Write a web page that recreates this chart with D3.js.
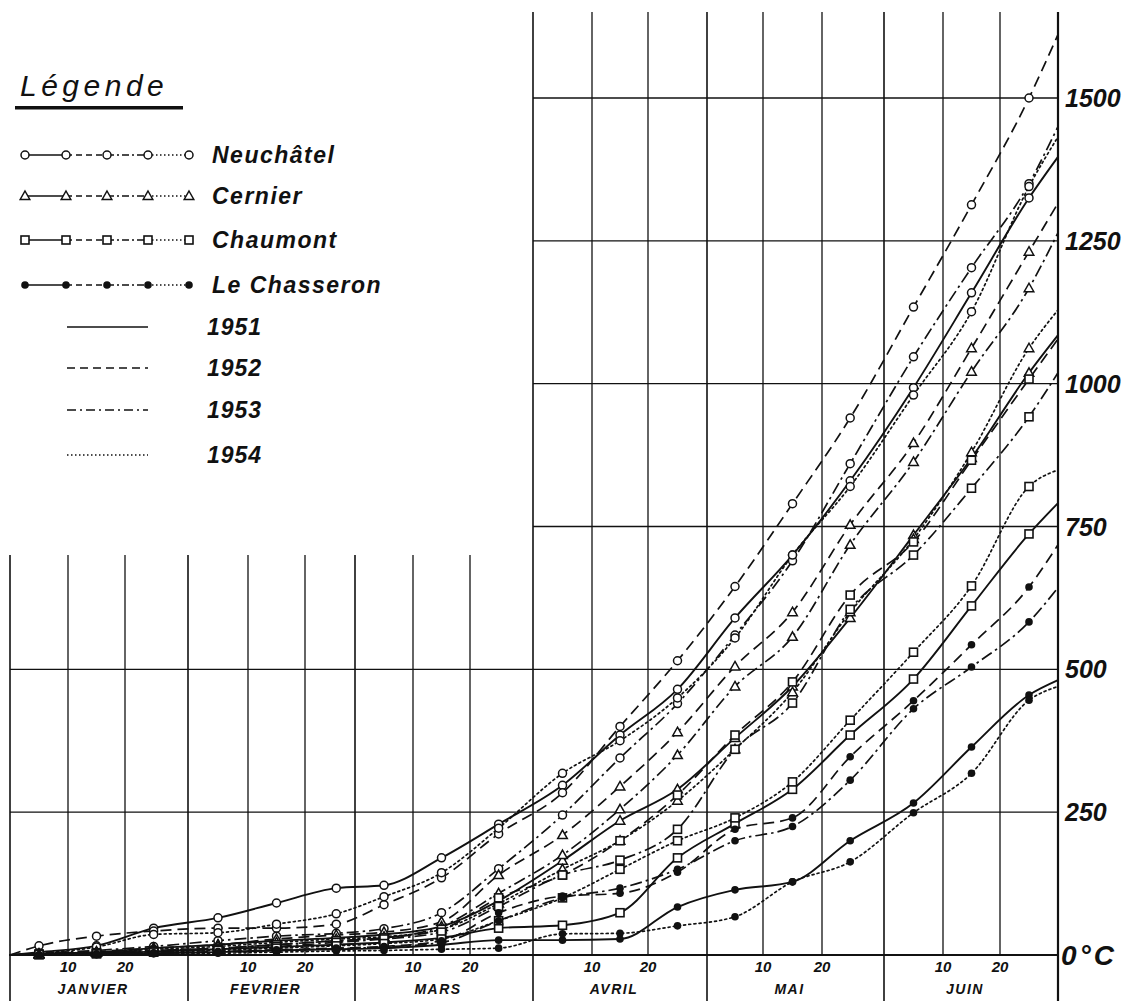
<!DOCTYPE html>
<html>
<head>
<meta charset="utf-8">
<script src="https://cdn.jsdelivr.net/npm/d3@7"></script>
<style>
  html, body { margin: 0; padding: 0; background: #fff; }
  svg { display: block; }
  text { font-family: "Liberation Sans", "DejaVu Sans", sans-serif; fill: #111; }
</style>
</head>
<body>
<svg id="chart" width="1124" height="1001"></svg>
<script>
// Cumulative temperature sums (°C above 0), 1 January – 30 June.
// Day index = days elapsed since 1 January; readings taken on the 5th, 15th and 25th.
const dayIndex = [0, 5, 15, 25, 36, 46, 56, 64, 74, 84, 95, 105, 115, 125, 135, 145, 156, 166, 176, 181];

const neuchatel1951 = [0, 5, 16, 47, 65, 91, 117, 122, 170, 229, 297, 385, 465, 590, 700, 830, 993, 1159, 1325, 1397];
const neuchatel1952 = [0, 16, 33, 42, 47, 47, 54, 88, 135, 212, 284, 400, 515, 645, 790, 940, 1134, 1313, 1500, 1611];
const neuchatel1953 = [0, 3, 8, 15, 25, 33, 38, 46, 74, 151, 245, 345, 440, 560, 690, 860, 1047, 1203, 1350, 1450];
const neuchatel1954 = [0, 3, 14, 36, 39, 54, 72, 102, 144, 222, 318, 375, 450, 555, 700, 820, 980, 1126, 1345, 1432];

const cernier1951 = [0, 2, 5, 12, 18, 25, 30, 36, 50, 95, 165, 235, 290, 380, 470, 590, 735, 870, 1019, 1085];
const cernier1952 = [0, 2, 6, 12, 18, 28, 35, 40, 58, 140, 210, 295, 390, 505, 600, 753, 896, 1062, 1231, 1316];
const cernier1953 = [0, 1, 4, 8, 12, 18, 25, 30, 50, 108, 175, 255, 350, 470, 557, 718, 863, 1021, 1167, 1264];
const cernier1954 = [0, 1, 4, 10, 15, 22, 28, 32, 45, 90, 150, 200, 270, 360, 460, 600, 728, 880, 1062, 1129];

const chaumont1951 = [0, 1, 3, 6, 10, 14, 18, 22, 30, 47, 52, 74, 170, 230, 290, 385, 483, 611, 737, 791];
const chaumont1952 = [0, 1, 4, 8, 12, 18, 25, 30, 45, 100, 140, 200, 280, 385, 478, 630, 723, 866, 1008, 1078];
const chaumont1953 = [0, 1, 3, 6, 10, 15, 22, 28, 40, 85, 140, 166, 220, 360, 441, 605, 700, 817, 942, 1019];
const chaumont1954 = [0, 1, 2, 5, 8, 12, 16, 20, 28, 60, 100, 150, 200, 240, 303, 411, 530, 646, 820, 849];

const chasseron1951 = [0, 0, 1, 3, 5, 8, 10, 12, 18, 26, 26, 28, 84, 114, 128, 200, 266, 364, 455, 481];
const chasseron1952 = [0, 0, 2, 4, 6, 9, 12, 15, 25, 74, 103, 108, 145, 220, 240, 347, 445, 543, 644, 718];
const chasseron1953 = [0, 0, 1, 3, 5, 8, 11, 14, 22, 60, 100, 117, 150, 200, 225, 306, 431, 504, 583, 643];
const chasseron1954 = [0, 0, 1, 2, 3, 5, 7, 8, 10, 12, 37, 38, 51, 67, 128, 163, 249, 318, 446, 470];

const stations = ["Neuchâtel", "Cernier", "Chaumont", "Le Chasseron"];
const stationMarks = ["circle", "triangle", "square", "dot"];
const years = ["1951", "1952", "1953", "1954"];

const series = [
  { station: 0, year: 0, values: neuchatel1951 },
  { station: 0, year: 1, values: neuchatel1952 },
  { station: 0, year: 2, values: neuchatel1953 },
  { station: 0, year: 3, values: neuchatel1954 },
  { station: 1, year: 0, values: cernier1951 },
  { station: 1, year: 1, values: cernier1952 },
  { station: 1, year: 2, values: cernier1953 },
  { station: 1, year: 3, values: cernier1954 },
  { station: 2, year: 0, values: chaumont1951 },
  { station: 2, year: 1, values: chaumont1952 },
  { station: 2, year: 2, values: chaumont1953 },
  { station: 2, year: 3, values: chaumont1954 },
  { station: 3, year: 0, values: chasseron1951 },
  { station: 3, year: 1, values: chasseron1952 },
  { station: 3, year: 2, values: chasseron1953 },
  { station: 3, year: 3, values: chasseron1954 }
];

// Grid: month starts and the 10th / 20th of each month (day index).
const gridDays = [0, 10, 20, 31, 41, 51, 59, 69, 79, 90, 100, 110, 120, 130, 140, 151, 161, 171, 181];
const monthStartDays = [0, 31, 59, 90, 120, 151, 181];
const monthNames = ["JANVIER", "FEVRIER", "MARS", "AVRIL", "MAI", "JUIN"];
const yTicks = [250, 500, 750, 1000, 1250, 1500];

// Line style per year: solid, dashed, dash-dot, dotted
const yearDash = [null, "11,6", "12,4,2.5,4", "2,3.2"];

const svg = d3.select("#chart");

// The hand-drawn grid is slightly uneven, so the time scale follows it piecewise.
const x = d3.scaleLinear()
  .domain(gridDays)
  .range([10, 68, 125, 188, 248, 305, 355, 413, 470, 533, 592, 648, 707, 763, 822, 884, 943, 1000, 1058]);
const y = d3.scaleLinear().domain([0, 1500]).range([955, 98]);

const xLeft = x(0), xRight = x(181), xApril = x(90);
const yBase = y(0);
const yTopRight = 12;
const yTopLeft = 555;

const grid = svg.append("g").attr("stroke", "#111").attr("fill", "none");

// vertical grid lines
gridDays.forEach(d => {
  const isMonth = monthStartDays.includes(d);
  const top = d >= 90 ? yTopRight : yTopLeft;
  const bottom = isMonth ? 1001 : yBase;
  grid.append("line")
    .attr("x1", x(d)).attr("x2", x(d))
    .attr("y1", top).attr("y2", bottom)
    .attr("stroke-width", d === 181 ? 2.2 : (isMonth ? 1.6 : 1.3));
});

// horizontal grid lines
yTicks.forEach(v => {
  const x0 = v <= 500 ? xLeft : xApril;
  grid.append("line")
    .attr("x1", x0).attr("x2", xRight)
    .attr("y1", y(v)).attr("y2", y(v))
    .attr("stroke-width", 1.3);
});
grid.append("line")
  .attr("x1", xLeft).attr("x2", xRight)
  .attr("y1", yBase).attr("y2", yBase)
  .attr("stroke-width", 2.2);

// right-hand value labels
const labelFont = "italic bold 25px 'Liberation Sans', sans-serif";
yTicks.forEach(v => {
  svg.append("text")
    .attr("x", xRight + 7).attr("y", y(v))
    .attr("dy", "0.36em")
    .style("font", labelFont)
    .text(v);
});
svg.append("text")
  .attr("x", xRight + 3).attr("y", yBase)
  .attr("dy", "0.36em")
  .style("font", "italic bold 28px 'Liberation Sans', sans-serif")
  .style("letter-spacing", "3px")
  .text("0°C");

// day labels (10, 20) and month names
gridDays.forEach(d => {
  if (monthStartDays.includes(d)) return;
  svg.append("text")
    .attr("x", x(d)).attr("y", 972)
    .attr("text-anchor", "middle")
    .style("font", "italic bold 15px 'Liberation Sans', sans-serif")
    .text(d3.range(6).some(m => d - monthStartDays[m] === 10) ? "10" : "20");
});
monthNames.forEach((m, i) => {
  const cx = (x(monthStartDays[i]) + x(monthStartDays[i + 1])) / 2 - 6;
  svg.append("text")
    .attr("x", cx).attr("y", 994)
    .attr("text-anchor", "middle")
    .style("font", "italic bold 14px 'Liberation Sans', sans-serif")
    .style("letter-spacing", "1.5px")
    .text(m);
});

// marker shapes
function drawMarker(g, kind, cx, cy) {
  if (kind === "circle") {
    g.append("circle").attr("cx", cx).attr("cy", cy).attr("r", 4)
      .attr("fill", "#fff").attr("stroke", "#111").attr("stroke-width", 1.5);
  } else if (kind === "triangle") {
    g.append("path")
      .attr("d", `M${cx},${cy - 5}L${cx + 4.8},${cy + 3.5}L${cx - 4.8},${cy + 3.5}Z`)
      .attr("fill", "#fff").attr("stroke", "#111").attr("stroke-width", 1.5);
  } else if (kind === "square") {
    g.append("rect").attr("x", cx - 4).attr("y", cy - 4).attr("width", 8).attr("height", 8)
      .attr("fill", "#fff").attr("stroke", "#111").attr("stroke-width", 1.6);
  } else {
    g.append("circle").attr("cx", cx).attr("cy", cy).attr("r", 3.8).attr("fill", "#111");
  }
}

// curves
const line = d3.line()
  .x((v, i) => x(dayIndex[i]))
  .y(v => y(v))
  .curve(d3.curveMonotoneX);

const curves = svg.append("g");
series.forEach(s => {
  curves.append("path")
    .attr("d", line(s.values))
    .attr("fill", "none")
    .attr("stroke", "#111")
    .attr("stroke-width", s.year === 0 ? 1.9 : 1.7)
    .attr("stroke-dasharray", yearDash[s.year])
    .attr("stroke-linecap", s.year === 3 ? "round" : "butt");
});
const marks = svg.append("g");
series.forEach(s => {
  s.values.forEach((v, i) => {
    if (i === 0 || i === s.values.length - 1) return;
    drawMarker(marks, stationMarks[s.station], x(dayIndex[i]), y(v));
  });
});

// legend
const legend = svg.append("g");
legend.append("text")
  .attr("x", 20).attr("y", 96)
  .style("font", "italic 30px 'Liberation Sans', sans-serif")
  .style("letter-spacing", "4.5px")
  .text("Légende");
legend.append("rect")
  .attr("x", 15).attr("y", 106).attr("width", 168).attr("height", 3.5).attr("fill", "#111");

const keyX = [25, 66, 107, 148, 189];
const stationRowY = [155, 196, 240, 285];
const legendFont = "italic bold 23px 'Liberation Sans', sans-serif";
stations.forEach((name, si) => {
  const ly = stationRowY[si];
  for (let k = 0; k < 4; k++) {
    legend.append("line")
      .attr("x1", keyX[k]).attr("x2", keyX[k + 1])
      .attr("y1", ly).attr("y2", ly)
      .attr("stroke", "#111").attr("stroke-width", 1.7)
      .attr("stroke-dasharray", k === 0 ? null : (k === 1 ? "6,4" : (k === 2 ? "7,3,2,3" : "1.5,2.5")));
  }
  keyX.forEach(kx => drawMarker(legend, stationMarks[si], kx, ly));
  legend.append("text")
    .attr("x", 212).attr("y", ly).attr("dy", "0.36em")
    .style("font", legendFont)
    .style("letter-spacing", "1.5px")
    .text(name);
});

const yearRowY = [327, 368, 410, 455];
const legendYearDash = [null, "8,5", "9,4,2,4", "1.5,2.5"];
years.forEach((yr, yi) => {
  const ly = yearRowY[yi];
  legend.append("line")
    .attr("x1", 67).attr("x2", 148)
    .attr("y1", ly).attr("y2", ly)
    .attr("stroke", "#111").attr("stroke-width", 1.7)
    .attr("stroke-dasharray", legendYearDash[yi]);
  legend.append("text")
    .attr("x", 207).attr("y", ly).attr("dy", "0.36em")
    .style("font", legendFont)
    .style("letter-spacing", "1px")
    .text(yr);
});
</script>
</body>
</html>
